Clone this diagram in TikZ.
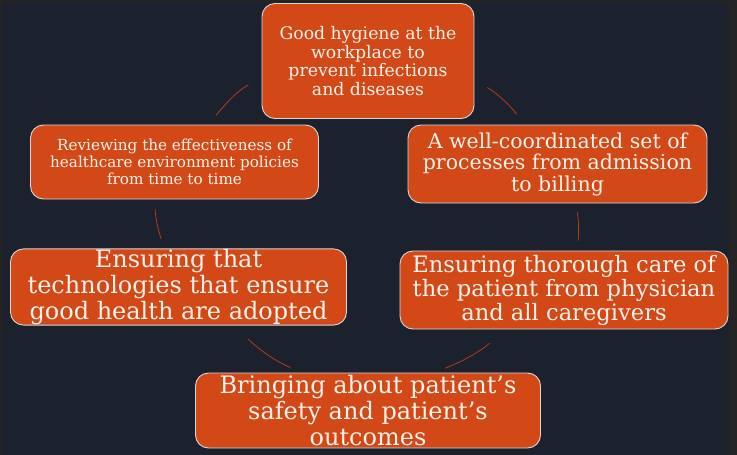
\documentclass[tikz,border=0pt]{standalone}
\usepackage{fontspec}
\setmainfont{DejaVu Serif}
\definecolor{frame}{HTML}{242424}
\definecolor{navy}{HTML}{1B212D}
\definecolor{rust}{HTML}{D24817}
\definecolor{rim}{HTML}{D8D8D8}
\definecolor{arcline}{HTML}{B53C12}
\definecolor{ink}{HTML}{FBF3EC}
\tikzset{
  stage/.style={draw=rim, line width=0.9pt, fill=rust, rounded corners=13pt,
    text=ink, align=center, inner sep=0pt},
  link/.style={draw=arcline, line width=0.8pt}
}
\begin{document}
\begin{tikzpicture}[x=1pt, y=-1pt]
  \useasboundingbox (0,0) rectangle (737,455);
  \fill[frame] (0,0) rectangle (737,455);
  \fill[navy] (2,3) rectangle (729,455);
  % the six stages
  \node[stage, minimum width=212pt, minimum height=115pt,
    font=\fontsize{17.3}{18.6}\selectfont] (hyg) at (368,61)
    {Good hygiene at the\\workplace to\\prevent infections\\and diseases};
  \node[stage, minimum width=288pt, minimum height=74pt,
    font=\fontsize{15.2}{17}\selectfont] (rev) at (174.5,162)
    {Reviewing the effectiveness of\\healthcare environment policies\\from time to time};
  \node[stage, minimum width=299pt, minimum height=78pt,
    font=\fontsize{20.5}{21.5}\selectfont] (proc) at (557.5,164)
    {A well-coordinated set of\\processes from admission\\to billing};
  \node[stage, minimum width=336pt, minimum height=75pt,
    font=\fontsize{24}{26.3}\selectfont] (tech) at (178.5,287)
    {Ensuring that\\technologies that ensure\\good health are adopted};
  \node[stage, minimum width=328pt, minimum height=78pt,
    font=\fontsize{22.6}{24}\selectfont] (care) at (564,290)
    {Ensuring thorough care of\\the patient from physician\\and all caregivers};
  \node[stage, minimum width=345pt, minimum height=75pt,
    font=\fontsize{24}{26}\selectfont] (safe) at (368,410.5)
    {Bringing about patient’s\\safety and patient’s\\outcomes};
  % arcs of the cycle
  \draw[link, shorten <=15pt, shorten >=12pt] (hyg.189) to[out=208, in=50] (rev.48);
  \draw[link, shorten <=15pt, shorten >=13pt] (hyg.350) to[out=329, in=127] (proc.130);
  \draw[link, shorten <=10pt, shorten >=10pt] (rev.242) to[out=273, in=109] (tech.110);
  \draw[link, shorten <=9pt, shorten >=10pt] (proc.295) to[out=279, in=83] (care.72);
  \draw[link, shorten <=20pt, shorten >=13pt] (tech.325) to[out=317, in=157] (safe.150);
  \draw[link, shorten <=21pt, shorten >=12pt] (care.214) to[out=221, in=21] (safe.30);
\end{tikzpicture}
\end{document}
